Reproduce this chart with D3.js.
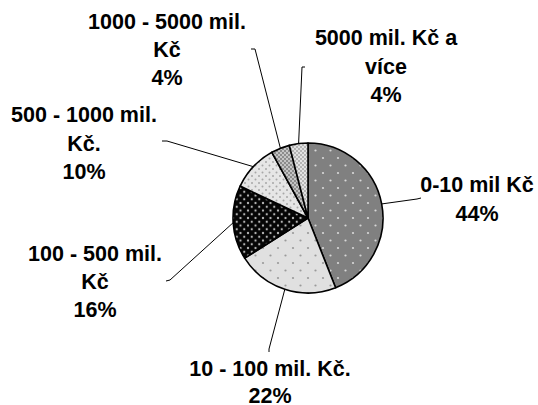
<!DOCTYPE html>
<html>
<head>
<meta charset="utf-8">
<script src="https://cdn.jsdelivr.net/npm/d3@7"></script>
<style>
  html, body { margin: 0; padding: 0; background: #fff; }
  svg { display: block; }
  text { font-family: "Liberation Sans", Arial, sans-serif; font-weight: bold; fill: #000; }
</style>
</head>
<body>
<svg id="chart" width="538" height="405"></svg>
<script>
// Podíl podle velikosti (mil. Kč), po směru hodinových ručiček od 12 hodin
const categories = [
  ["0-10 mil Kč"],
  ["10 - 100 mil. Kč."],
  ["100 - 500 mil.", "Kč"],
  ["500 - 1000 mil.", "Kč."],
  ["1000 - 5000 mil.", "Kč"],
  ["5000 mil. Kč a", "více"]
];
const values = [44, 22, 16, 10, 4, 4];
const percentLabels = ["44%", "22%", "16%", "10%", "4%", "4%"];

// Label block placement: centre x, first baseline y, line height, leader elbow and tick end
const labelLayout = [
  { x: 477, y: 192, h: 28.5, elbow: [417, 199], end: [421, 198] },
  { x: 270, y: 376, h: 27,   elbow: [269, 349], end: [269, 352] },
  { x: 95,  y: 261, h: 28,   elbow: [170, 280], end: [166, 281] },
  { x: 84,  y: 122, h: 28.5, elbow: [167, 141], end: [162, 141] },
  { x: 167, y: 29,  h: 28,   elbow: [255, 49],  end: [251, 49] },
  { x: 386, y: 45,  h: 28.5, elbow: [302, 67],  end: [305, 67] }
];

const svg = d3.select("#chart");
const defs = svg.append("defs");

// Fill patterns for the slices
function dotPattern(id, bg, dot, tile, r) {
  const p = defs.append("pattern").attr("id", id)
    .attr("patternUnits", "userSpaceOnUse")
    .attr("width", tile).attr("height", tile);
  p.append("rect").attr("width", tile).attr("height", tile).attr("fill", bg);
  [[0, 0], [tile, 0], [0, tile], [tile, tile], [tile / 2, tile / 2]].forEach(([px, py]) =>
    p.append("circle").attr("cx", px).attr("cy", py).attr("r", r).attr("fill", dot));
}
function checkPattern(id, bg, fg) {
  const p = defs.append("pattern").attr("id", id)
    .attr("patternUnits", "userSpaceOnUse").attr("width", 4).attr("height", 4);
  p.append("rect").attr("width", 4).attr("height", 4).attr("fill", bg);
  p.append("rect").attr("x", 0).attr("y", 0).attr("width", 2).attr("height", 2).attr("fill", fg);
  p.append("rect").attr("x", 2).attr("y", 2).attr("width", 2).attr("height", 2).attr("fill", fg);
}
dotPattern("p0", "#808080", "#d8d8d8", 15, 1.1);
dotPattern("p1", "#e0e0e0", "#9a9a9a", 15, 1.1);
dotPattern("p2", "#050505", "#b8b8b8", 7.5, 1.1);
dotPattern("p3", "#e6e6e6", "#a8a8a8", 7, 1.0);
checkPattern("p4", "#c4c4c4", "#8c8c8c");
checkPattern("p5", "#e2e2e2", "#b4b4b4");

const cx = 308, cy = 218, radius = 75;

const pie = d3.pie().sort(null).value(d => d)
  .startAngle(0).endAngle(2 * Math.PI);
const arcs = pie(values);
const arc = d3.arc().innerRadius(0).outerRadius(radius);

const g = svg.append("g").attr("transform", `translate(${cx},${cy})`);

g.selectAll("path.slice").data(arcs).join("path")
  .attr("class", "slice")
  .attr("d", arc)
  .attr("fill", (d, i) => `url(#p${i})`)
  .attr("stroke", "#000")
  .attr("stroke-width", 1.6)
  .attr("stroke-linejoin", "round");

// Leader lines: from arc midpoint to elbow, then short horizontal tick
const edge = d3.arc().innerRadius(radius).outerRadius(radius);
svg.selectAll("polyline.leader").data(arcs).join("polyline")
  .attr("class", "leader")
  .attr("points", (d, i) => {
    const [mx, my] = edge.centroid(d);
    const L = labelLayout[i];
    return [[cx + mx, cy + my], L.elbow, L.end].map(p => p.join(",")).join(" ");
  })
  .attr("fill", "none")
  .attr("stroke", "#000")
  .attr("stroke-width", 1);

// Category and percentage labels
const labels = svg.selectAll("text.lbl").data(arcs).join("text")
  .attr("class", "lbl")
  .attr("text-anchor", "middle")
  .attr("font-size", 21.5);
labels.each(function (d, i) {
  const L = labelLayout[i];
  const lines = categories[i].concat([percentLabels[i]]);
  d3.select(this).selectAll("tspan").data(lines).join("tspan")
    .attr("x", L.x)
    .attr("y", (t, k) => L.y + k * L.h)
    .text(t => t);
});
</script>
</body>
</html>
